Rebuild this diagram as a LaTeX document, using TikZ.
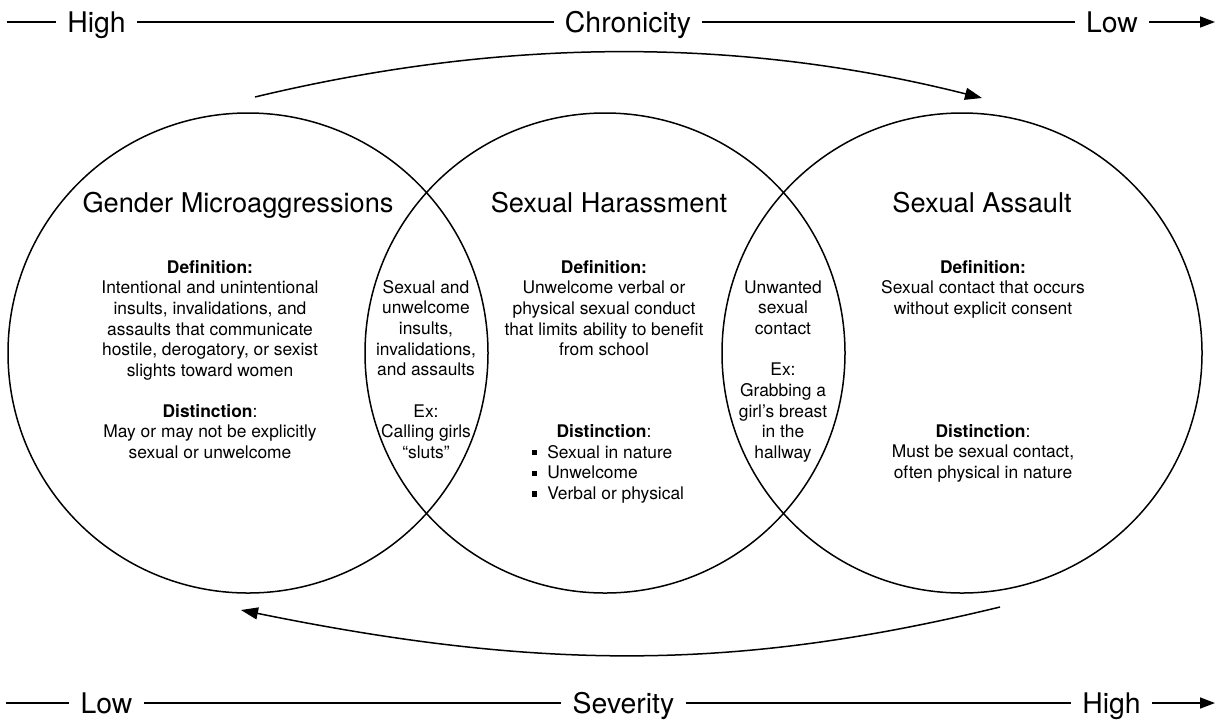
\documentclass[tikz,border=0pt]{standalone}
\usepackage{fontspec}
\setmainfont{TeX Gyre Heros}
\usetikzlibrary{arrows.meta}

\newcommand{\sqbul}{\raisebox{1.4pt}{\rule{2.6pt}{2.6pt}}\hspace{5pt}}

\begin{document}
\begin{tikzpicture}[
  x=0.5pt, y=-0.5pt,
  ring/.style={draw, circle, line width=0.75pt, minimum size=240pt,
               inner sep=0pt},
  head/.style={anchor=base, font=\fontsize{13.6}{16}\selectfont},
  body/.style={anchor=base, align=center,
               font=\fontsize{8.7}{10.35}\selectfont},
  axis/.style={font=\fontsize{14.2}{17}\selectfont, text height=10pt,
               text depth=0pt, inner xsep=5.5pt, inner ysep=0pt},
  axline/.style={line width=0.75pt},
  axtip/.style={-{Triangle[length=7.5pt,width=5.5pt]}},
  sweep/.style={-{Triangle[length=8.5pt,width=6pt]}, line width=0.75pt},
]

\useasboundingbox (0,0) rectangle (1215,719);

% ---- chronicity axis ----
\coordinate (t0) at (7,22);
\node[axis] (thi)  at (96.5,22)  {High};
\node[axis] (tchr) at (628,22)   {Chronicity};
\node[axis] (tlo)  at (1112,22)  {Low};
\coordinate (t1) at (1215,22);
\draw[axline] (t0) -- (thi);
\draw[axline] (thi) -- (tchr);
\draw[axline] (tchr) -- (tlo);
\draw[axline, axtip] (tlo) -- (t1);

% ---- circles ----
\node[ring] (gm) at (248,353) {};
\node[ring] (sh) at (605,353) {};
\node[ring] (sa) at (962,353) {};

% ---- titles ----
\node[head] (gmt) at (238,212) {Gender Microaggressions};
\node[head] (sht) at (609,212) {Sexual Harassment};
\node[head] (sat) at (982,212) {Sexual Assault};

% ---- gender microaggressions (base = last line) ----
\node[body] (gmdef) at (210,376.5)
  {\textbf{Definition:}\\Intentional and unintentional\\insults, invalidations, and\\
   assaults that communicate\\hostile, derogatory, or sexist\\slights toward women};
\node[body] (gmdis) at (210,458.4)
  {\textbf{Distinction}:\\May or may not be explicitly\\sexual or unwelcome};

% ---- overlap left ----
\node[body] (ov1) at (426,458.6)
  {Sexual and\\unwelcome\\insults,\\invalidations,\\and assaults\\[10.35pt]
   Ex:\\Calling girls\\“sluts”};

% ---- sexual harassment ----
\node[body] (shdef) at (604,355.8)
  {\textbf{Definition:}\\Unwelcome verbal or\\physical sexual conduct\\
   that limits ability to benefit\\from school};
\node[body] (shdis) at (604,437) {\textbf{Distinction}:};
\node[body, anchor=base west, align=left] (shlist) at (525,499.4)
  {\sqbul Sexual in nature\\\sqbul Unwelcome\\\sqbul Verbal or physical};

% ---- overlap right ----
\node[body] (ov2) at (783,458.6)
  {Unwanted\\sexual\\contact\\[10.35pt]Ex:\\Grabbing a\\girl’s breast\\in the\\hallway};

% ---- sexual assault ----
\node[body] (sadef) at (983,314.4)
  {\textbf{Definition:}\\Sexual contact that occurs\\without explicit consent};
\node[body] (sadis) at (983,478.4)
  {\textbf{Distinction}:\\Must be sexual contact,\\often physical in nature};

% ---- sweeps ----
\coordinate (a0) at (255,97);
\coordinate (a1) at (982,98);
\draw[sweep] (a0) .. controls (505,37) and (740,37) .. (a1);
\coordinate (b0) at (1000,607);
\coordinate (b1) at (241,610);
\draw[sweep] (b0) .. controls (740,670) and (545,672) .. (b1);

% ---- severity axis ----
\coordinate (s0) at (6,703);
\node[axis] (slo)  at (106.5,703)  {Low};
\node[axis] (ssev) at (623.5,703)  {Severity};
\node[axis] (shi)  at (1111.5,703) {High};
\coordinate (s1) at (1215,703);
\draw[axline] (s0) -- (slo);
\draw[axline] (slo) -- (ssev);
\draw[axline] (ssev) -- (shi);
\draw[axline, axtip] (shi) -- (s1);

\end{tikzpicture}
\end{document}
